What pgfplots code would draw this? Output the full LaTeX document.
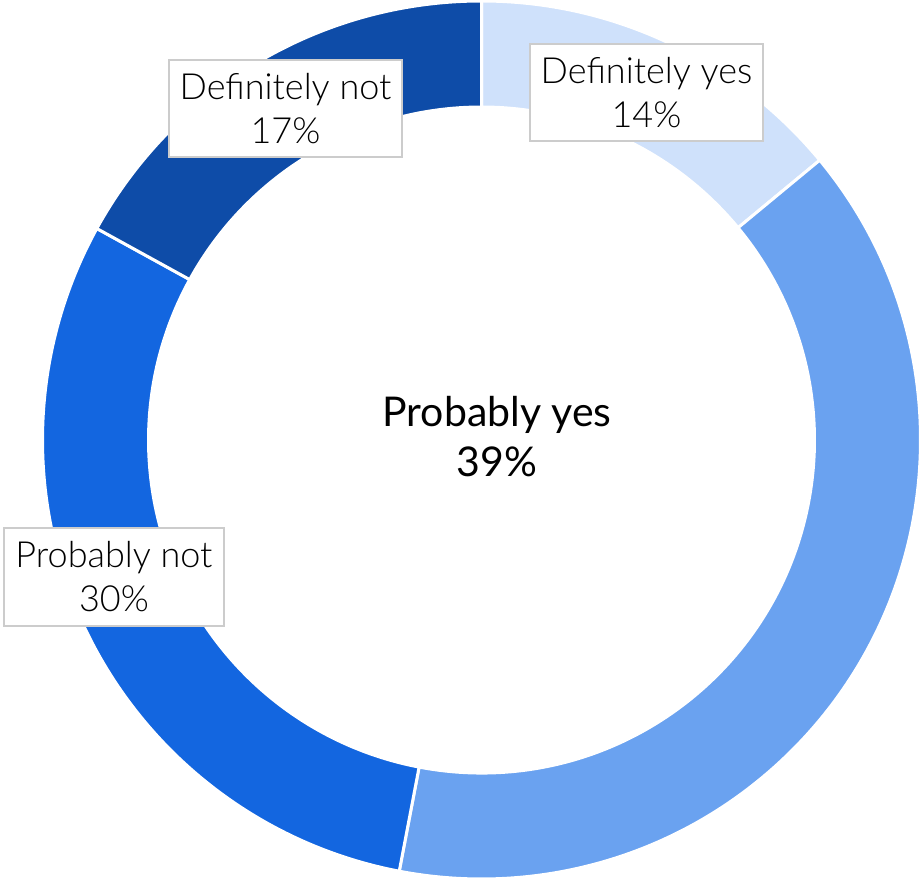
\documentclass[border=0pt]{standalone}
\usepackage{fontspec}
\setmainfont{Lato Light}
\newfontfamily\regfont{Lato}
\usepackage{pgfplots}
\usepackage{pgfplotstable}
\pgfplotsset{compat=1.18}

\definecolor{defyes}{HTML}{CFE1FB}
\definecolor{probyes}{HTML}{6AA2F0}
\definecolor{probnot}{HTML}{1366E0}
\definecolor{defnot}{HTML}{0E4CA8}

% answer shares (percent), clockwise from 12 o'clock
\pgfplotstableread[col sep=comma]{
label,value,col
Definitely yes,14,defyes
Probably yes,39,probyes
Probably not,30,probnot
Definitely not,17,defnot
}\answers

\begin{document}
\begin{tikzpicture}
\begin{axis}[
    x=0.5pt, y=0.5pt,
    xmin=0, xmax=921, ymin=0, ymax=879,
    hide axis,
    clip=false,
]
\def\acc{0}
\pgfplotsforeachungrouped \i in {0,...,3}{
    \pgfplotstablegetelem{\i}{value}\of\answers
    \let\v\pgfplotsretval
    \pgfplotstablegetelem{\i}{col}\of\answers
    \let\c\pgfplotsretval
    \pgfmathsetmacro\a{90-3.6*\acc}
    \pgfmathsetmacro\b{90-3.6*(\acc+\v)}
    \edef\cmd{\noexpand\filldraw[fill=\c, draw=white, line width=1.5pt]
        (axis cs:481.5,439) ++(\a:219.5pt)
        arc[start angle=\a, end angle=\b, radius=219.5pt]
        -- ++(\b:-53pt)
        arc[start angle=\b, end angle=\a, radius=166.5pt] -- cycle;}
    \cmd
    \pgfmathsetmacro\acc{\acc+\v}
    \xdef\acc{\acc}
}
\tikzset{lbl/.style={draw=black!20, line width=1pt, fill=white, align=center,
    inner xsep=5.5pt, minimum height=48.5pt,
    font=\fontsize{18}{22}\selectfont}}
\node[lbl] at (axis cs:646.5,786.5) {Definitely yes\\14\%};
\node[lbl] at (axis cs:285.5,770) {Definitely not\\17\%};
\node[lbl] at (axis cs:114,302) {Probably not\\30\%};
\node[align=center, font=\regfont\fontsize{20.5}{25}\selectfont] at (axis cs:497,442) {Probably yes\\39\%};
\end{axis}
\pgfresetboundingbox
\path[use as bounding box] (0,0) rectangle (460.5pt,439.5pt);
\end{tikzpicture}
\end{document}
